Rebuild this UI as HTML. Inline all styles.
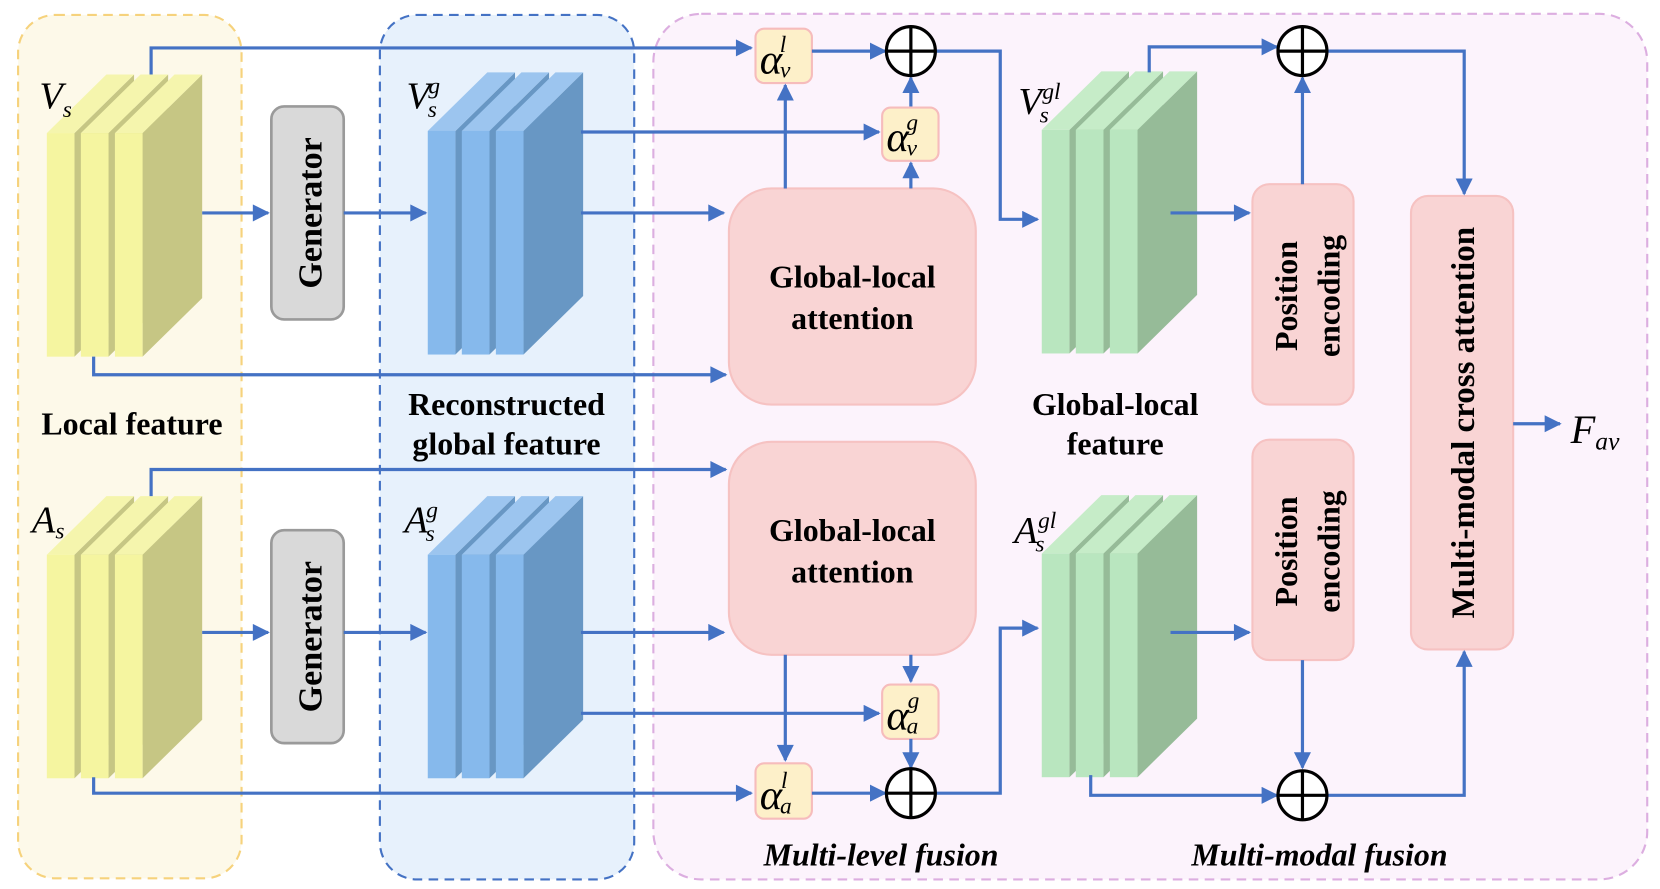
<!DOCTYPE html>
<html><head><meta charset="utf-8"><style>
html,body{margin:0;padding:0;background:#fff;}
svg{display:block;}
text{font-family:"Liberation Serif",serif;}
.b{font-weight:bold;font-size:30px;fill:#000;text-anchor:middle;}
.i{font-style:italic;font-size:36px;fill:#000;}
.s{font-style:italic;font-size:22px;fill:#000;}
.ln{fill:none;stroke:#4472c4;stroke-width:3;}
</style></head><body>
<svg width="1660" height="889" viewBox="0 0 1560 835" preserveAspectRatio="none" xmlns="http://www.w3.org/2000/svg">
<defs>
<marker id="a" viewBox="0 0 10 10" refX="9" refY="5" markerWidth="18" markerHeight="16" markerUnits="userSpaceOnUse" orient="auto"><path d="M0,0 L10,5 L0,10 z" fill="#4472c4"/></marker>
</defs>
<rect x="17" y="14" width="210" height="811" rx="35" fill="#fdf9e9" stroke="#f6d27c" stroke-width="2" stroke-dasharray="9,6"/>
<rect x="357" y="14" width="239" height="812" rx="35" fill="#e7f1fc" stroke="#4472c4" stroke-width="2" stroke-dasharray="9,6"/>
<rect x="614" y="13" width="934" height="813" rx="45" fill="#fcf3fc" stroke="#dcaee0" stroke-width="2" stroke-dasharray="9,6"/>

<g>
<polygon points="70,125 126,70 126,280 70,335" fill="#c6c684"/><polygon points="44,125 100,70 126,70 70,125" fill="#f5f5ad"/><rect x="44" y="125" width="26" height="210" fill="#f5f5a0"/>
<polygon points="102,125 158,70 158,280 102,335" fill="#c6c684"/><polygon points="76,125 132,70 158,70 102,125" fill="#f5f5ad"/><rect x="76" y="125" width="26" height="210" fill="#f5f5a0"/>
<polygon points="134,125 190,70 190,280 134,335" fill="#c6c684"/><polygon points="108,125 164,70 190,70 134,125" fill="#f5f5ad"/><rect x="108" y="125" width="26" height="210" fill="#f5f5a0"/>
</g>
<g transform="translate(0,396)">
<polygon points="70,125 126,70 126,280 70,335" fill="#c6c684"/><polygon points="44,125 100,70 126,70 70,125" fill="#f5f5ad"/><rect x="44" y="125" width="26" height="210" fill="#f5f5a0"/>
<polygon points="102,125 158,70 158,280 102,335" fill="#c6c684"/><polygon points="76,125 132,70 158,70 102,125" fill="#f5f5ad"/><rect x="76" y="125" width="26" height="210" fill="#f5f5a0"/>
<polygon points="134,125 190,70 190,280 134,335" fill="#c6c684"/><polygon points="108,125 164,70 190,70 134,125" fill="#f5f5ad"/><rect x="108" y="125" width="26" height="210" fill="#f5f5a0"/>
</g>
<g transform="translate(358,-2)">
<polygon points="70,125 126,70 126,280 70,335" fill="#6897c4"/><polygon points="44,125 100,70 126,70 70,125" fill="#9cc5ef"/><rect x="44" y="125" width="26" height="210" fill="#86b9ec"/>
<polygon points="102,125 158,70 158,280 102,335" fill="#6897c4"/><polygon points="76,125 132,70 158,70 102,125" fill="#9cc5ef"/><rect x="76" y="125" width="26" height="210" fill="#86b9ec"/>
<polygon points="134,125 190,70 190,280 134,335" fill="#6897c4"/><polygon points="108,125 164,70 190,70 134,125" fill="#9cc5ef"/><rect x="108" y="125" width="26" height="210" fill="#86b9ec"/>
</g>
<g transform="translate(358,396)">
<polygon points="70,125 126,70 126,280 70,335" fill="#6897c4"/><polygon points="44,125 100,70 126,70 70,125" fill="#9cc5ef"/><rect x="44" y="125" width="26" height="210" fill="#86b9ec"/>
<polygon points="102,125 158,70 158,280 102,335" fill="#6897c4"/><polygon points="76,125 132,70 158,70 102,125" fill="#9cc5ef"/><rect x="76" y="125" width="26" height="210" fill="#86b9ec"/>
<polygon points="134,125 190,70 190,280 134,335" fill="#6897c4"/><polygon points="108,125 164,70 190,70 134,125" fill="#9cc5ef"/><rect x="108" y="125" width="26" height="210" fill="#86b9ec"/>
</g>
<g transform="translate(935,-3)">
<polygon points="70,125 126,70 126,280 70,335" fill="#96bb98"/><polygon points="44,125 100,70 126,70 70,125" fill="#c6ecc8"/><rect x="44" y="125" width="26" height="210" fill="#b9e6bf"/>
<polygon points="102,125 158,70 158,280 102,335" fill="#96bb98"/><polygon points="76,125 132,70 158,70 102,125" fill="#c6ecc8"/><rect x="76" y="125" width="26" height="210" fill="#b9e6bf"/>
<polygon points="134,125 190,70 190,280 134,335" fill="#96bb98"/><polygon points="108,125 164,70 190,70 134,125" fill="#c6ecc8"/><rect x="108" y="125" width="26" height="210" fill="#b9e6bf"/>
</g>
<g transform="translate(935,395)">
<polygon points="70,125 126,70 126,280 70,335" fill="#96bb98"/><polygon points="44,125 100,70 126,70 70,125" fill="#c6ecc8"/><rect x="44" y="125" width="26" height="210" fill="#b9e6bf"/>
<polygon points="102,125 158,70 158,280 102,335" fill="#96bb98"/><polygon points="76,125 132,70 158,70 102,125" fill="#c6ecc8"/><rect x="76" y="125" width="26" height="210" fill="#b9e6bf"/>
<polygon points="134,125 190,70 190,280 134,335" fill="#96bb98"/><polygon points="108,125 164,70 190,70 134,125" fill="#c6ecc8"/><rect x="108" y="125" width="26" height="210" fill="#b9e6bf"/>
</g>

<text class="i" x="37" y="102">V<tspan class="s" dy="8">s</tspan></text>
<text class="i" x="382" y="102">V<tspan class="s" dy="8" dx="-2">s</tspan><tspan class="s" dy="-22" dx="-8">g</tspan></text>
<text class="i" x="957" y="107">V<tspan class="s" dy="8" dx="-2">s</tspan><tspan class="s" dy="-22" dx="-6">gl</tspan></text>
<text class="i" x="30" y="500">A<tspan class="s" dy="6">s</tspan></text>
<text class="i" x="380" y="500">A<tspan class="s" dy="8" dx="-2">s</tspan><tspan class="s" dy="-22" dx="-8">g</tspan></text>
<text class="i" x="953" y="510">A<tspan class="s" dy="8" dx="-2">s</tspan><tspan class="s" dy="-22" dx="-6">gl</tspan></text>

<rect x="255" y="100" width="68" height="200" rx="12" fill="#d9d9d9" stroke="#9a9a9a" stroke-width="2.5"/>
<text class="b" transform="translate(302,200) rotate(-90)" style="font-size:32px">Generator</text>
<rect x="255" y="498" width="68" height="200" rx="12" fill="#d9d9d9" stroke="#9a9a9a" stroke-width="2.5"/>
<text class="b" transform="translate(302,598) rotate(-90)" style="font-size:32px">Generator</text>

<rect x="685" y="177" width="232" height="203" rx="40" fill="#f9d4d4" stroke="#f6c2c2" stroke-width="2"/>
<text class="b" x="801" y="270">Global-local</text><text class="b" x="801" y="309">attention</text>
<rect x="685" y="415" width="232" height="200" rx="40" fill="#f9d4d4" stroke="#f6c2c2" stroke-width="2"/>
<text class="b" x="801" y="508">Global-local</text><text class="b" x="801" y="547">attention</text>

<rect x="1177" y="173" width="95" height="207" rx="16" fill="#f9d4d4" stroke="#f6c2c2" stroke-width="2"/>
<text class="b" transform="translate(1219,278) rotate(-90)">Position</text>
<text class="b" transform="translate(1259,278) rotate(-90)">encoding</text>
<rect x="1177" y="413" width="95" height="207" rx="16" fill="#f9d4d4" stroke="#f6c2c2" stroke-width="2"/>
<text class="b" transform="translate(1219,518) rotate(-90)">Position</text>
<text class="b" transform="translate(1259,518) rotate(-90)">encoding</text>
<rect x="1326" y="184" width="96" height="426" rx="16" fill="#f9d4d4" stroke="#f6c2c2" stroke-width="2"/>
<text class="b" transform="translate(1385,397) rotate(-90)" style="font-size:31px">Multi-modal cross attention</text>

<g fill="#fdf0c9" stroke="#f6bcbc" stroke-width="2">
<rect x="710" y="27" width="53" height="51" rx="8"/>
<rect x="829" y="101" width="53" height="50" rx="8"/>
<rect x="829" y="643" width="53" height="51" rx="8"/>
<rect x="710" y="717" width="53" height="52" rx="8"/>
</g>
<text class="i" x="714" y="69" style="font-size:40px">α<tspan class="s" dx="-2" dy="4">v</tspan><tspan class="s" dx="-10" dy="-24">l</tspan></text>
<text class="i" x="833" y="142" style="font-size:40px">α<tspan class="s" dx="-2" dy="4">v</tspan><tspan class="s" dx="-10" dy="-24">g</tspan></text>
<text class="i" x="833" y="685" style="font-size:40px">α<tspan class="s" dx="-2" dy="4">a</tspan><tspan class="s" dx="-10" dy="-24">g</tspan></text>
<text class="i" x="714" y="760" style="font-size:40px">α<tspan class="s" dx="-2" dy="4">a</tspan><tspan class="s" dx="-10" dy="-24">l</tspan></text>

<g class="ln">
<path d="M142,70 V45 H706" marker-end="url(#a)"/>
<path d="M763,48 H832" marker-end="url(#a)"/>
<path d="M879,48 H940 V206 H975" marker-end="url(#a)"/>
<path d="M856,100 V73" marker-end="url(#a)"/>
<path d="M546,124 H826" marker-end="url(#a)"/>
<path d="M546,200 H680" marker-end="url(#a)"/>
<path d="M738,177 V80" marker-end="url(#a)"/>
<path d="M856,177 V153" marker-end="url(#a)"/>
<path d="M88,335 V352 H682" marker-end="url(#a)"/>
<path d="M190,200 H252" marker-end="url(#a)"/>
<path d="M323,200 H400" marker-end="url(#a)"/>
<path d="M190,594 H252" marker-end="url(#a)"/>
<path d="M323,594 H400" marker-end="url(#a)"/>
<path d="M1100,200 H1174" marker-end="url(#a)"/>
<path d="M1080,68 V44 H1200" marker-end="url(#a)"/>
<path d="M1246,48 H1376 V182" marker-end="url(#a)"/>
<path d="M1224,173 V73" marker-end="url(#a)"/>
<path d="M142,466 V441 H682" marker-end="url(#a)"/>
<path d="M546,594 H680" marker-end="url(#a)"/>
<path d="M546,670 H826" marker-end="url(#a)"/>
<path d="M738,615 V714" marker-end="url(#a)"/>
<path d="M856,615 V640" marker-end="url(#a)"/>
<path d="M856,694 V721" marker-end="url(#a)"/>
<path d="M88,730 V745 H706" marker-end="url(#a)"/>
<path d="M763,745 H832" marker-end="url(#a)"/>
<path d="M879,745 H940 V590 H975" marker-end="url(#a)"/>
<path d="M1100,594 H1174" marker-end="url(#a)"/>
<path d="M1224,620 V721" marker-end="url(#a)"/>
<path d="M1025,728 V747 H1200" marker-end="url(#a)"/>
<path d="M1246,747 H1376 V612" marker-end="url(#a)"/>
<path d="M1422,398 H1466" marker-end="url(#a)"/>
</g>

<g fill="#fff" stroke="#000" stroke-width="3">
<circle cx="856" cy="48" r="23"/><path d="M833,48 H879 M856,25 V71"/>
<circle cx="856" cy="745" r="23"/><path d="M833,745 H879 M856,722 V768"/>
<circle cx="1224" cy="48" r="23"/><path d="M1201,48 H1247 M1224,25 V71"/>
<circle cx="1224" cy="747" r="23"/><path d="M1201,747 H1247 M1224,724 V770"/>
</g>

<text class="i" x="1476" y="416" style="font-size:38px">F<tspan class="s" dy="6" style="font-size:24px">av</tspan></text>

<text class="b" x="124" y="408">Local feature</text>
<text class="b" x="476" y="390">Reconstructed</text>
<text class="b" x="476" y="427">global feature</text>
<text class="b" x="1048" y="390">Global-local</text>
<text class="b" x="1048" y="427">feature</text>
<text class="b" x="828" y="813" style="font-style:italic">Multi-level fusion</text>
<text class="b" x="1240" y="813" style="font-style:italic">Multi-modal fusion</text>
</svg>
</body></html>
